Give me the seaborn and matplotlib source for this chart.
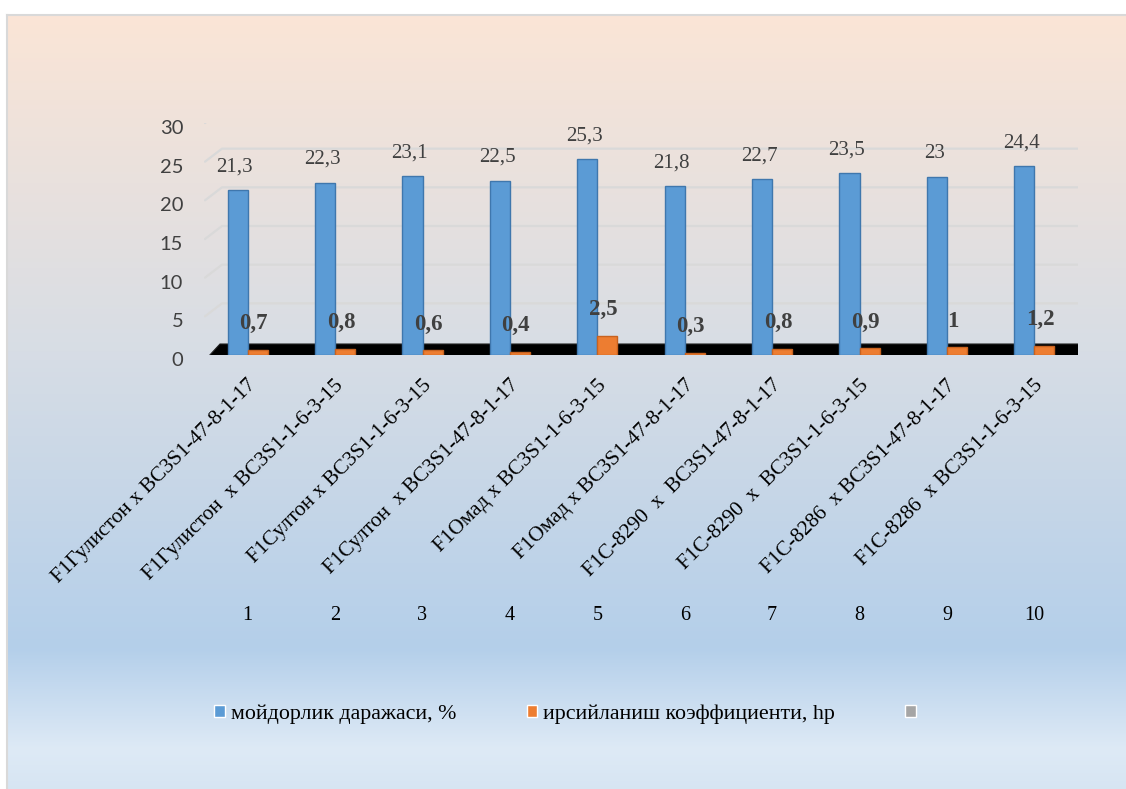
import numpy as np
import pandas as pd
import matplotlib
matplotlib.use("Agg")
import matplotlib.pyplot as plt
import matplotlib.transforms as mtransforms
from matplotlib.patches import Patch, Polygon
from matplotlib.lines import Line2D
import seaborn as sns

# ---- data -------------------------------------------------------------
hybrids = [
    "F1Гулистон x BC3S1-47-8-1-17",
    "F1Гулистон  x BC3S1-1-6-3-15",
    "F1Султон x BC3S1-1-6-3-15",
    "F1Султон  x BC3S1-47-8-1-17",
    "F1Омад x BC3S1-1-6-3-15",
    "F1Омад x BC3S1-47-8-1-17",
    "F1C-8290  x  BC3S1-47-8-1-17",
    "F1C-8290  x  BC3S1-1-6-3-15",
    "F1C-8286  x BC3S1-47-8-1-17",
    "F1C-8286  x BC3S1-1-6-3-15",
]
numbers = ["1", "2", "3", "4", "5", "6", "7", "8", "9", "10"]
oil_content = [21.3, 22.3, 23.1, 22.5, 25.3, 21.8, 22.7, 23.5, 23.0, 24.4]
heritability = [0.7, 0.8, 0.6, 0.4, 2.5, 0.3, 0.8, 0.9, 1.0, 1.2]
series_names = ["мойдорлик даражаси, %", "ирсийланиш коэффициенти, hp", ""]
y_ticks = [0, 5, 10, 15, 20, 25, 30]

# ---- style ------------------------------------------------------------
BLUE, BLUE_EDGE = "#5B9BD5", "#3F77AD"
ORANGE, ORANGE_EDGE = "#ED7D31", "#C8621F"
GRAY = "#A5A5A5"
TEXT = "#404040"

W, H, DPI = 1126, 789, 100
sns.set_theme(style="white")
plt.rcParams["font.family"] = ["Liberation Serif", "DejaVu Serif"]

fig = plt.figure(figsize=(W / DPI, H / DPI), dpi=DPI)
fig.patch.set_facecolor("white")

# ---- chart area gradient background -----------------------------------
bg = fig.add_axes([7 / W, -0.01, 1 - 7 / W + 0.02, (H - 15) / H + 0.01], zorder=0)
stops = [
    (0.00, (251, 229, 214)),
    (0.43, (215, 221, 229)),
    (0.81, (180, 207, 234)),
    (0.94, (222, 234, 246)),
    (1.00, (213, 228, 242)),
]
t = np.linspace(0, 1, 600)
grad = np.stack(
    [np.interp(t, [s[0] for s in stops], [s[1][c] for s in stops]) for c in range(3)],
    axis=-1,
) / 255.0
bg.imshow(grad[:, None, :], aspect="auto", extent=[0, 1, 0, 1], origin="upper")
bg.set_xlim(0, 1)
bg.set_ylim(0, 1)
bg.set_xticks([])
bg.set_yticks([])
for side in ("right", "bottom"):
    bg.spines[side].set_visible(False)
for side in ("left", "top"):
    bg.spines[side].set_color("#D9D9D9")
    bg.spines[side].set_linewidth(1.5)

# ---- main plot --------------------------------------------------------
ax = fig.add_axes([204 / W, (H - 355) / H, (1078 - 204) / W, (355 - 123) / H], zorder=2)
ax.set_facecolor("none")

df = pd.DataFrame({
    "hybrid": hybrids * 2,
    "series": [series_names[0]] * len(hybrids) + [series_names[1]] * len(hybrids),
    "value": oil_content + heritability,
})
sns.barplot(
    data=df, x="hybrid", y="value", hue="series", hue_order=series_names[:2],
    palette=[BLUE, ORANGE], width=0.46, saturation=1, legend=False, ax=ax, zorder=3,
)
for container, edge in zip(ax.containers, [BLUE_EDGE, ORANGE_EDGE]):
    for bar in container:
        bar.set_edgecolor(edge)
        bar.set_linewidth(1.0)

ax.set_ylim(0, 30)
ax.set_xlim(-0.5, len(hybrids) - 0.5)
ax.set_yticks(y_ticks)
ax.set_xlabel("")
ax.set_ylabel("")
for s in ax.spines.values():
    s.set_visible(False)
ax.grid(False)
ax.tick_params(axis="both", length=0)
ax.tick_params(axis="y", pad=15)

fig.canvas.draw()
to_px = ax.transData.transform
x_left = ax.transAxes.transform((0, 0))[0]
x_right = ax.transAxes.transform((1, 0))[0]
ident = mtransforms.IdentityTransform()

# receding gridlines on the back wall
for v in y_ticks[1:]:
    yf = to_px((0, v))[1]
    ax.add_artist(Line2D(
        [x_left + 1, x_left + 18, x_right + 17], [yf, yf + 13, yf + 13],
        transform=ident, color="#D9D9D9", lw=1.6, zorder=1,
    ))

# black floor slab under the bars
y0 = to_px((0, 0))[1]
floor = Polygon(
    [(x_left + 4, y0 - 2), (x_right + 2, y0 - 2), (x_right + 15, y0 + 11), (x_left + 16, y0 + 11)],
    closed=True, transform=ident, facecolor="black", edgecolor="#222222", lw=0.8, zorder=2,
)
ax.add_artist(floor)

# y tick labels
for lab in ax.get_yticklabels():
    lab.set_fontfamily("Lato")
    lab.set_fontsize(14.5)
    lab.set_color(TEXT)
    lab.set_transform(lab.get_transform() + mtransforms.ScaledTranslation(0, -4 / DPI, fig.dpi_scale_trans))

# rotated category labels
ax.set_xticks(range(len(hybrids)))
ax.set_xticklabels(hybrids, rotation=45, ha="right", va="center", rotation_mode="anchor",
                   fontsize=15.3, color="black")
ax.tick_params(axis="x", pad=20)
for lab in ax.get_xticklabels():
    lab.set_transform(lab.get_transform() + mtransforms.ScaledTranslation(6 / DPI, 0, fig.dpi_scale_trans))

# numbering row
xtr = ax.get_xaxis_transform()
for i, n in enumerate(numbers):
    ax.text(i, (355 - 615) / (355 - 123), n, transform=xtr, ha="center", va="center",
            fontsize=14.5, color="black")

# value labels
def fmt(v):
    return f"{v:g}".replace(".", ",")

for bar, v in zip(ax.containers[0], oil_content):
    ax.annotate(fmt(v), (bar.get_x() + bar.get_width() / 2, bar.get_height()),
                xytext=(-2, 17), textcoords="offset points", ha="center", va="center",
                fontsize=15, color=TEXT, zorder=5)
for bar, v in zip(ax.containers[1], heritability):
    ax.annotate(fmt(v), (bar.get_x() + bar.get_width() / 2, bar.get_height()),
                xytext=(-3, 18.7), textcoords="offset points", ha="center", va="center",
                fontsize=16.5, fontweight="bold", color=TEXT, zorder=5)

# legend
handles = [Patch(facecolor=BLUE), Patch(facecolor=ORANGE), Patch(facecolor=GRAY)]
fig.legend(
    handles, series_names, ncol=3, loc="center", bbox_to_anchor=(568 / W, (H - 714) / H),
    frameon=False, fontsize=15.8, handlelength=0.5, handleheight=0.5, handletextpad=0.25,
    columnspacing=3.2, labelcolor="black",
)

fig.savefig("out.png", dpi=DPI)
